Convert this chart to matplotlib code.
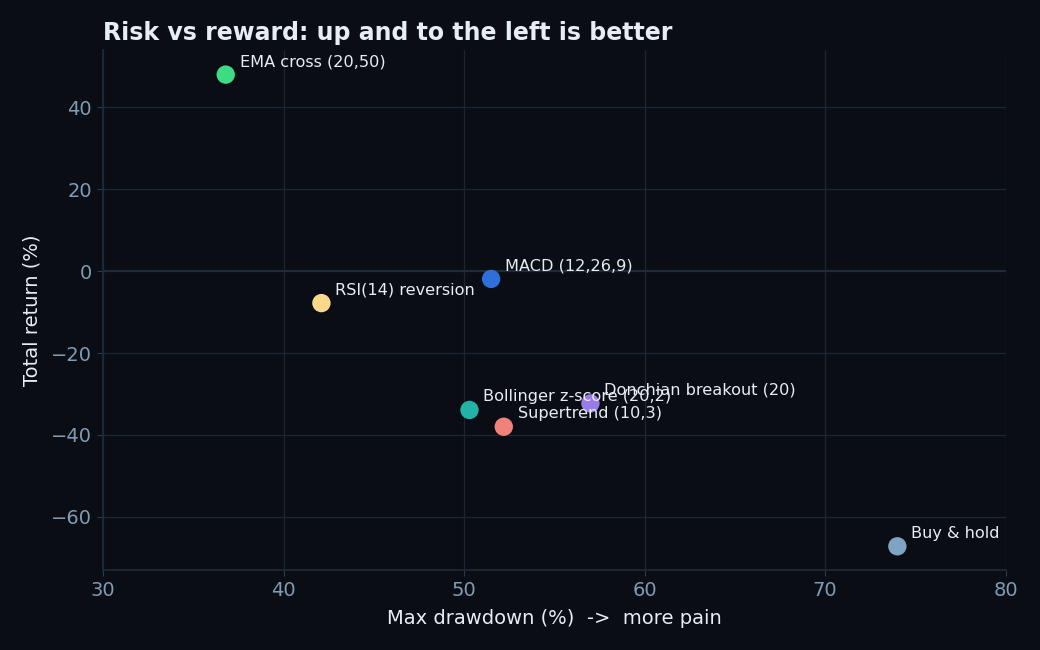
import matplotlib
matplotlib.use("Agg")
import matplotlib.pyplot as plt

strategies = ["EMA cross (20,50)", "RSI(14) reversion", "MACD (12,26,9)",
              "Bollinger z-score (20,2)", "Supertrend (10,3)",
              "Donchian breakout (20)", "Buy & hold"]
max_drawdown = [36.8, 42.1, 51.5, 50.3, 52.2, 57.0, 74.0]
total_return = [48.0, -7.8, -1.9, -33.9, -38.0, -32.3, -67.2]
colors = ["#3ddc84", "#fcd88a", "#2f6fdc", "#22b2a6", "#f0827a", "#9b7bea", "#7fa3c2"]

BG = "#0a0d14"
GRID = "#1a2536"
TICK = "#7f9bb5"
TXT = "#e6edf3"

fig = plt.figure(figsize=(10.4, 6.5), dpi=100, facecolor=BG)
ax = fig.add_axes([0.099, 0.123, 0.868, 0.80])
ax.set_facecolor(BG)

ax.axhline(0, color="#1f2b3c", lw=1.5, zorder=1)
ax.scatter(max_drawdown, total_return, s=175, c=colors, zorder=3, edgecolors="none")
for name, x, y in zip(strategies, max_drawdown, total_return):
    ax.annotate(name, (x, y), xytext=(10, 4), textcoords="offset points",
                color=TXT, fontsize=11.6, va="bottom", ha="left", zorder=4)

ax.set_xlim(30, 80)
ax.set_ylim(-73, 54)
ax.set_yticks([-60, -40, -20, 0, 20, 40])
ax.grid(True, color=GRID, lw=0.9)
ax.set_axisbelow(True)
for s in ["top", "right"]:
    ax.spines[s].set_visible(False)
for s in ["left", "bottom"]:
    ax.spines[s].set_color("#1f2b3c")
    ax.spines[s].set_linewidth(1.2)
ax.tick_params(colors=TICK, labelsize=14, length=4.5)
ax.tick_params(axis="both", color="#2a3a50")
ax.set_xlabel("Max drawdown (%)  ->  more pain", color=TXT, fontsize=14, labelpad=6.5)
ax.set_ylabel("Total return (%)", color=TXT, fontsize=14, labelpad=7)
ax.set_title("Risk vs reward: up and to the left is better", color=TXT,
             fontsize=17, fontweight="bold", loc="left", pad=7)

fig.savefig("out.png", dpi=100, facecolor=BG)
